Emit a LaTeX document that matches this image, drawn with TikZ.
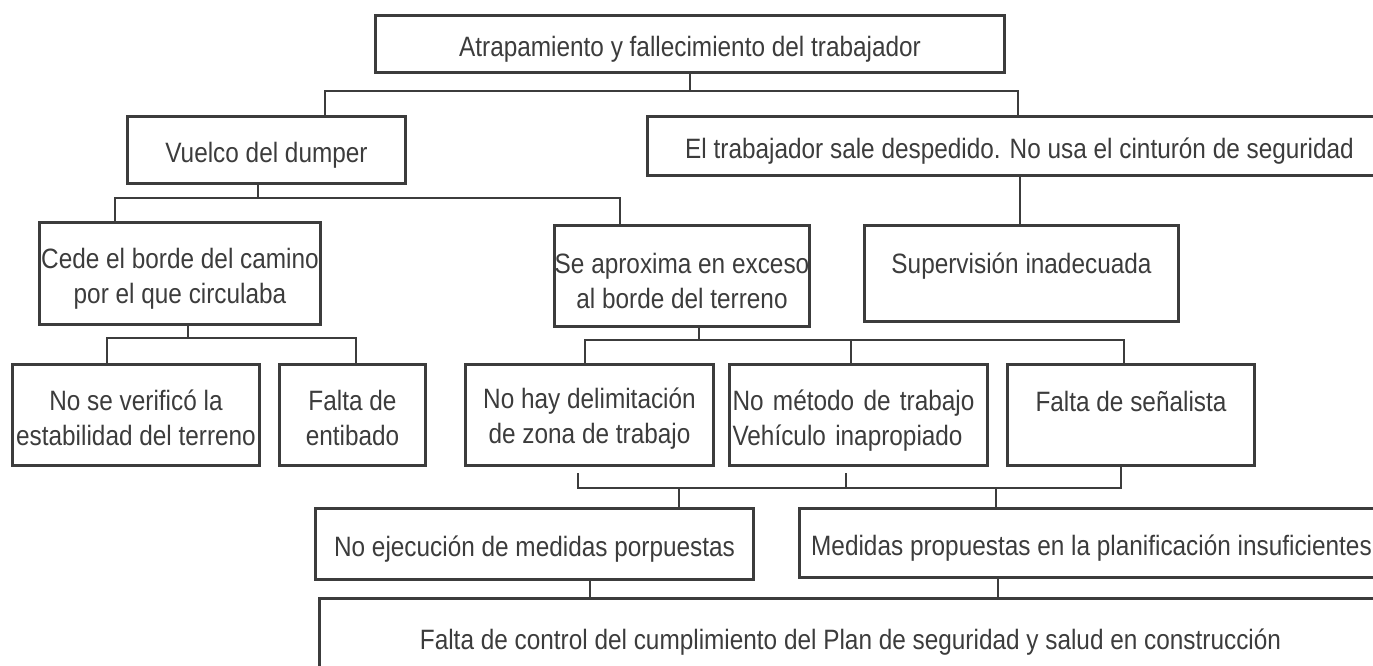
\documentclass[tikz,border=0pt]{standalone}
\usepackage{fontspec}
\setmainfont[FakeStretch=0.87]{Liberation Sans}
\usetikzlibrary{calc}
\definecolor{ink}{RGB}{60,60,60}
\tikzset{
	cause/.style={draw=ink, line width=3pt, rectangle, inner sep=0pt, anchor=north west, align=center, text=ink, font=\fontsize{28}{35}\selectfont, execute at begin node={\rule{0pt}{#1}}},
	cause/.default=31pt,
	link/.style={draw=ink, line width=2pt},
}

\begin{document}
\begin{tikzpicture}[x=1pt, y=-1pt]
		\path[use as bounding box, clip] (0,0) rectangle (1373,666);

		\node[cause, minimum width=629pt, minimum height=57pt] (top) at (374,14) {Atrapamiento y fallecimiento del trabajador};
		\node[cause, minimum width=278pt, minimum height=67pt] (vuelco) at (126,115) {Vuelco del dumper};
		\node[cause, minimum width=744pt, minimum height=59pt] (trab) at (646,115) {El trabajador sale despedido. No usa el cinturón de seguridad};
		\node[cause=65pt, minimum width=281pt, minimum height=102pt] (cede) at (38,221) {Cede el borde del camino\\por el que circulaba};
		\node[cause=65pt, minimum width=255pt, minimum height=101pt] (aprox) at (553,224) {Se aproxima en exceso\\al borde del terreno};
		\node[cause=70pt, minimum width=314pt, minimum height=96pt] (superv) at (863,224) {Supervisión inadecuada\\\mbox{}};
		\node[cause=62pt, minimum width=247pt, minimum height=101pt] (verif) at (11,363) {No se verificó la\\estabilidad del terreno};
		\node[cause=62pt, minimum width=146pt, minimum height=101pt] (entib) at (278,363) {Falta de\\entibado};
		\node[cause=62pt, minimum width=248pt, minimum height=101pt] (delim) at (464,363) {No hay delimitación\\de zona de trabajo};
		\node[cause, minimum width=258pt, minimum height=101pt, text width=252pt, align=left] (metodo) at (728,363) {\makebox[\linewidth][s]{No método de trabajo}\\Vehículo inapropiado};
		\node[cause=62pt, minimum width=247pt, minimum height=101pt] (senal) at (1006,363) {Falta de señalista\\\mbox{}};
		\node[cause, minimum width=438pt, minimum height=71pt] (ejec) at (314,507) {No ejecución de medidas porpuestas};
		\node[cause, minimum width=584pt, minimum height=69pt] (medidas) at (798,507) {Medidas propuestas en la planificación insuficientes};
		\node[cause, minimum width=1062pt, minimum height=76pt] (control) at (318,597) {Falta de control del cumplimiento del Plan de seguridad y salud en construcción};

		\coordinate (j1) at (325,91);
		\coordinate (j2) at (1018,91);
		\coordinate (j3) at (258,198);
		\coordinate (j4) at (115,198);
		\coordinate (j5) at (620,198);
		\coordinate (j6) at (188,338);
		\coordinate (j7) at (107,338);
		\coordinate (j8) at (356,338);
		\coordinate (j9) at (699,340);
		\coordinate (j10) at (585,340);
		\coordinate (j11) at (851,340);
		\coordinate (j12) at (1124,340);
		\coordinate (j13) at (578,488);
		\coordinate (j14) at (846,488);
		\coordinate (j15) at (1121,488);
		\coordinate (j16) at (679,488);
		\coordinate (j17) at (996,488);
		\coordinate (j18) at (590,597);
		\coordinate (j19) at (998,597);

		\draw[link] (top.south) -- (top.south |- j1);
		\draw[link] (vuelco.north -| j1) -- (j1) -- (j2) -- (trab.north -| j2);
		\draw[link] (vuelco.south -| j3) -- (j3);
		\draw[link] (cede.north -| j4) -- (j4) -- (j5) -- (aprox.north -| j5);
		\draw[link] (trab.south) -- (superv.north -| trab.south);
		\draw[link] (cede.south -| j6) -- (j6);
		\draw[link] (verif.north -| j7) -- (j7) -- (j8) -- (entib.north -| j8);
		\draw[link] (aprox.south -| j9) -- (j9);
		\draw[link] (delim.north -| j10) -- (j10) -- (j12) -- (senal.north -| j12);
		\draw[link] (metodo.north -| j11) -- (j11);
		\draw[link] ($(delim.south -| j13)+(0,6)$) -- (j13) -- (j15) -- (senal.south -| j15);
		\draw[link] ($(metodo.south -| j14)+(0,6)$) -- (j14);
		\draw[link] (j16) -- (ejec.north -| j16);
		\draw[link] (j17) -- (medidas.north -| j17);
		\draw[link] (ejec.south -| j18) -- (j18);
		\draw[link] (medidas.south -| j19) -- (j19);
\end{tikzpicture}
\end{document}
